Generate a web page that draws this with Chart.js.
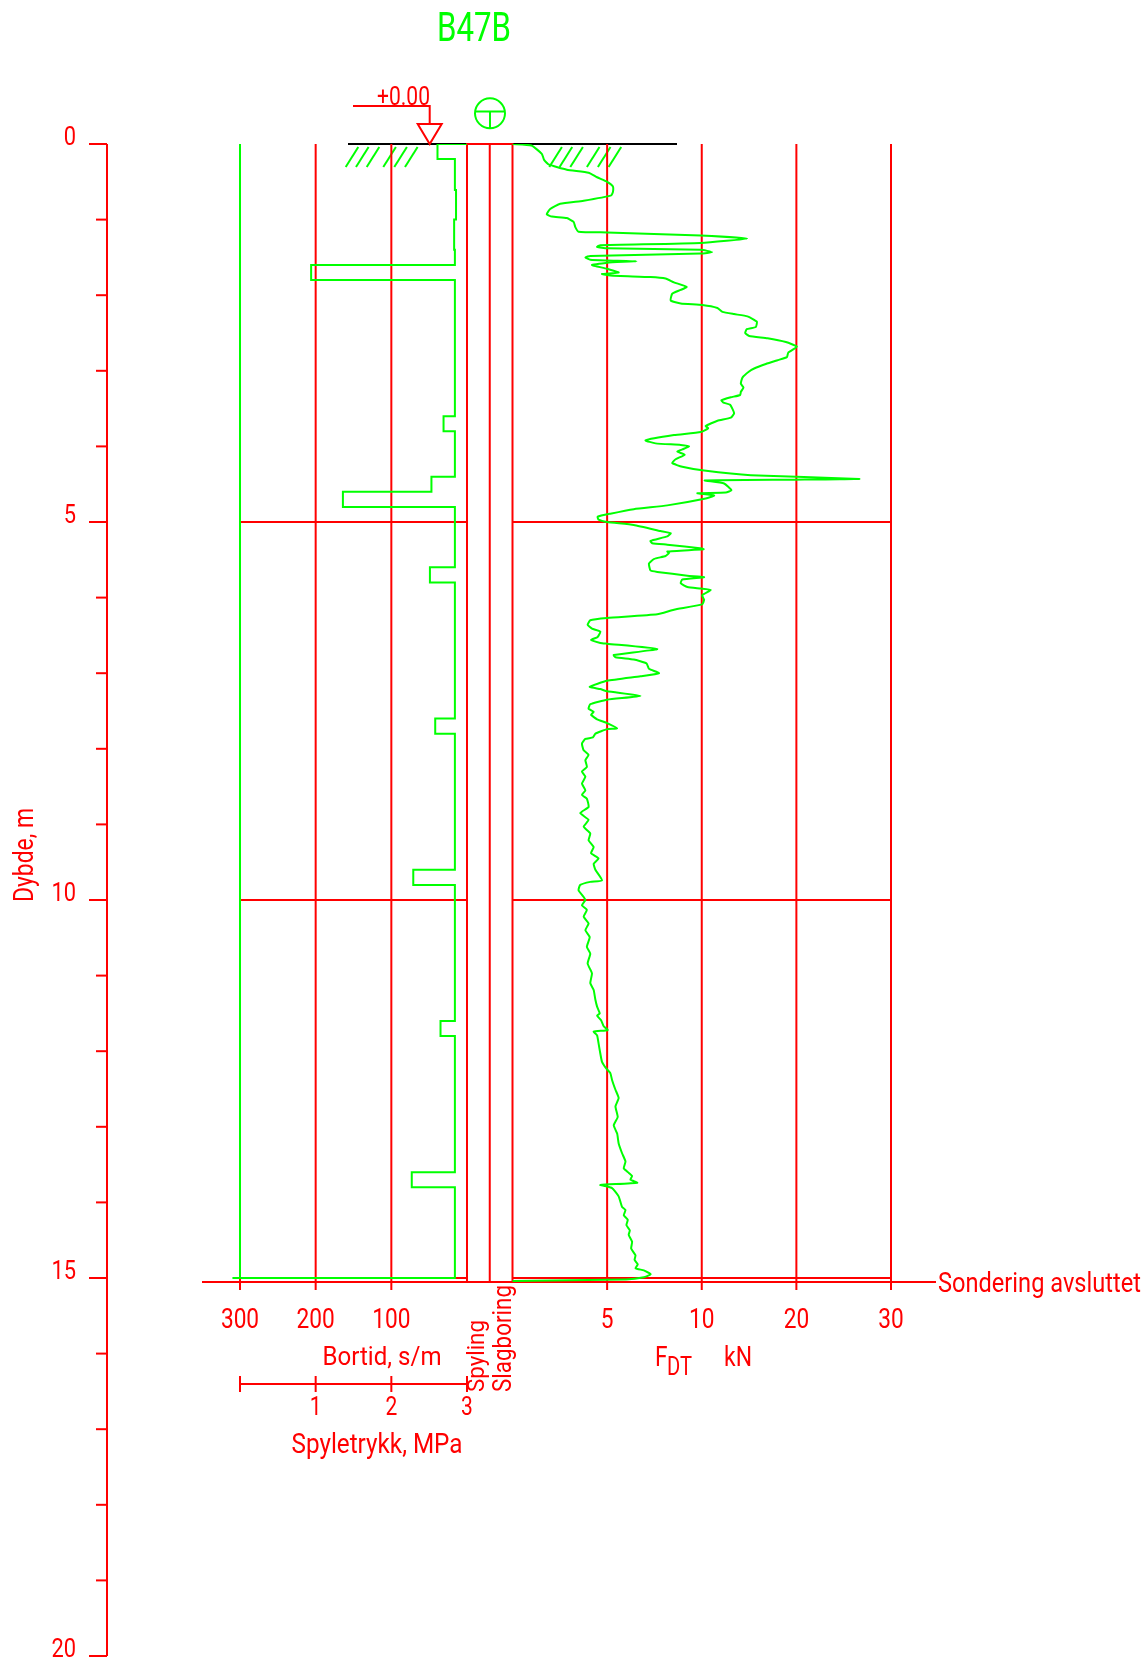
<!DOCTYPE html>
<html>
<head>
<meta charset="utf-8">
<title>B47B – totalsondering</title>
<script src="https://cdn.jsdelivr.net/npm/chart.js@4.4.1/dist/chart.umd.min.js"></script>
<style>
  html, body { margin: 0; padding: 0; background: #ffffff; }
  canvas { display: block; }
</style>
</head>
<body>
<canvas id="log" width="1148" height="1660" style="width:1148px;height:1660px"></canvas>
<script>
// ---------------------------------------------------------------------------
// Sounding data for borehole B47B
// ---------------------------------------------------------------------------
const boreholeName = 'B47B';
const endDepth = 15.0;            // m, "Sondering avsluttet"
const depthTicks = [0, 5, 10, 15, 20];

// Bortid (s/m): value holds from the listed depth down to the next one
const bortidDepth = [0, 0, 0.2, 0.61, 1.0, 1.4, 1.6, 1.8, 3.6, 3.8, 4.4, 4.6, 4.8, 5.6, 5.8, 7.6, 7.8, 9.6, 9.8, 11.6, 11.8, 13.6, 13.8, 15.0];
const bortidValue = [0, 39, 16, 14.5, 17, 16, 206, 16, 31, 16, 47, 164, 16, 49, 16, 42, 16, 71, 16, 35, 16, 73, 16, 310];
const bortidTicks = [300, 200, 100];

// Spyletrykk (MPa)
const pressureDepth = [0, 15.0];
const pressureValue = [0, 0];
const pressureTicks = [0, 1, 2, 3];

// Nedpressingskraft F_DT (kN)
const fdtDepth = [
  0.00, 0.02, 0.13, 0.21, 0.27, 0.34, 0.38, 0.44, 0.50, 0.56, 0.63, 0.68, 0.75, 0.79, 0.86, 0.93, 0.96, 0.98,
  1.03, 1.10, 1.16, 1.17, 1.21, 1.25, 1.31, 1.34, 1.36, 1.38, 1.40, 1.43, 1.45, 1.48, 1.50, 1.53, 1.54, 1.55,
  1.57, 1.60, 1.62, 1.65, 1.70, 1.72, 1.74, 1.76, 1.78, 1.83, 1.89, 1.93, 1.98, 2.07, 2.11, 2.13, 2.17, 2.22,
  2.25, 2.28, 2.35, 2.42, 2.45, 2.50, 2.54, 2.57, 2.62, 2.68, 2.76, 2.82, 2.86, 2.91, 2.97, 3.01, 3.09, 3.17,
  3.22, 3.28, 3.32, 3.35, 3.39, 3.42, 3.45, 3.56, 3.62, 3.66, 3.73, 3.76, 3.81, 3.85, 3.92, 3.96, 3.98, 4.00,
  4.04, 4.07, 4.11, 4.17, 4.22, 4.27, 4.32, 4.38, 4.43, 4.44, 4.45, 4.49, 4.58, 4.61, 4.62, 4.65, 4.69, 4.78,
  4.83, 4.89, 4.93, 4.97, 5.00, 5.04, 5.12, 5.15, 5.19, 5.25, 5.28, 5.30, 5.35, 5.36, 5.39, 5.41, 5.45, 5.49,
  5.55, 5.64, 5.66, 5.71, 5.73, 5.76, 5.81, 5.86, 5.88, 5.90, 5.97, 6.03, 6.09, 6.16, 6.22, 6.27, 6.30, 6.36,
  6.41, 6.45, 6.52, 6.56, 6.60, 6.61, 6.68, 6.76, 6.79, 6.82, 6.87, 6.94, 7.00, 7.04, 7.10, 7.18, 7.21, 7.24,
  7.30, 7.35, 7.41, 7.47, 7.51, 7.55, 7.61, 7.66, 7.73, 7.74, 7.80, 7.85, 7.87, 7.93, 8.02, 8.08, 8.15, 8.24,
  8.30, 8.37, 8.46, 8.55, 8.61, 8.66, 8.77, 8.85, 8.94, 9.03, 9.12, 9.21, 9.30, 9.38, 9.45, 9.52, 9.60, 9.74,
  9.76, 9.80, 9.87, 9.96, 10.00, 10.07, 10.13, 10.22, 10.31, 10.40, 10.49, 10.62, 10.71, 10.84, 10.97, 11.10,
  11.19, 11.32, 11.41, 11.50, 11.53, 11.59, 11.67, 11.72, 11.74, 11.79, 11.90, 12.03, 12.14, 12.23, 12.29, 12.38,
  12.51, 12.62, 12.73, 12.87, 12.98, 13.09, 13.22, 13.35, 13.46, 13.55, 13.61, 13.65, 13.70, 13.74, 13.77, 13.79,
  13.81, 13.86, 13.92, 13.99, 14.06, 14.10, 14.17, 14.23, 14.30, 14.37, 14.43, 14.52, 14.61, 14.70, 14.76, 14.82,
  14.87, 14.90, 14.95, 14.99, 15.02, 15.04
];
const fdtForce = [
  0.0, 1.0, 1.55, 1.67, 1.9, 2.87, 4.02, 4.47, 5.0, 5.3, 5.31, 5.22, 3.76, 2.52, 1.99, 1.81, 2.08, 2.87,
  3.23, 3.32, 3.49, 5.0, 9.95, 14.8, 9.95, 4.64, 4.47, 5.0, 9.95, 11.1, 9.95, 4.11, 3.85, 4.11, 5.0, 6.55,
  5.0, 4.2, 4.47, 5.0, 5.61, 4.73, 5.17, 7.29, 8.09, 8.53, 9.2, 8.89, 8.44, 8.36, 8.89, 10.07, 11.66, 12.19,
  13.42, 14.83, 15.82, 15.71, 14.76, 14.59, 15.01, 16.95, 18.89, 20.05, 19.14, 19.0, 18.0, 16.77, 15.54, 15.0, 14.3, 14.13,
  14.41, 14.13, 14.06, 13.07, 12.08, 12.29, 13.0, 13.42, 13.07, 11.66, 10.42, 10.67, 9.95, 8.53, 7.03, 7.56, 8.89, 9.33,
  8.97, 8.71, 9.1, 8.62, 8.44, 8.97, 10.25, 15.19, 26.65, 19.77, 10.32, 12.36, 13.14, 12.54, 9.77, 11.31, 10.42, 8.18,
  6.41, 5.17, 4.5, 4.55, 5.0, 6.41, 7.82, 8.36, 8.18, 7.29, 7.38, 8.18, 10.04, 10.2, 8.18, 8.27, 8.09, 7.47,
  7.21, 7.29, 7.65, 9.24, 10.25, 8.97, 8.89, 9.24, 9.95, 10.95, 10.04, 10.25, 10.04, 8.53, 7.65, 5.0, 4.11, 3.97,
  4.2, 4.64, 4.5, 4.15, 4.64, 5.0, 7.65, 5.35, 5.44, 6.41, 7.08, 7.21, 7.74, 6.76, 5.0, 4.08, 4.64, 5.0,
  6.76, 5.0, 4.11, 4.02, 4.29, 4.15, 4.47, 5.0, 5.53, 5.0, 4.38, 4.25, 3.85, 3.67, 3.76, 4.02, 3.85, 3.93,
  3.67, 3.85, 3.67, 3.85, 3.67, 3.93, 4.02, 3.58, 4.02, 3.76, 4.11, 4.02, 4.29, 4.15, 4.55, 4.29, 4.38, 4.73,
  4.11, 3.58, 3.49, 3.76, 3.85, 3.67, 3.93, 3.76, 4.02, 3.85, 4.08, 3.93, 4.11, 3.97, 4.2, 4.11,
  4.29, 4.38, 4.47, 4.61, 4.47, 4.68, 4.82, 5.03, 4.29, 4.47, 4.55, 4.64, 4.73, 4.96, 5.17, 5.26,
  5.44, 5.61, 5.44, 5.56, 5.35, 5.53, 5.61, 5.79, 5.97, 5.88, 6.15, 6.32, 6.23, 6.59, 4.64, 5.0,
  5.26, 5.44, 5.61, 5.70, 5.79, 5.97, 5.88, 6.09, 6.02, 6.2, 6.14, 6.32, 6.27, 6.5, 6.45, 6.62,
  6.5, 6.94, 7.3, 6.94, 6.0, 0.0
];
const fdtTicks = [5, 10, 20, 30];

// ---------------------------------------------------------------------------
// Sheet layout (pixels)
// ---------------------------------------------------------------------------
const PLOT = { left: 107, right: 891, top: 144, bottom: 1656 };
const RED = '#ff0000', GREEN = '#00ff00', BLACK = '#000000';
const FONT = 'Roboto, "DejaVu Sans", sans-serif';

// F_DT axis: linear up to 10 kN, half scale above
const SCALE_BREAK = 10, UPPER_FACTOR = 0.5;
const toU = v => (v <= SCALE_BREAK ? v : SCALE_BREAK + (v - SCALE_BREAK) * UPPER_FACTOR);
const fromU = u => (u <= SCALE_BREAK ? u : SCALE_BREAK + (u - SCALE_BREAK) / UPPER_FACTOR);

class SplitLinearScale extends Chart.LinearScale {
  getPixelForValue(value) {
    if (value === null || value === undefined) return NaN;
    const u0 = toU(this.min), u1 = toU(this.max);
    return this.getPixelForDecimal((toU(value) - u0) / (u1 - u0));
  }
  getValueForPixel(pixel) {
    const u0 = toU(this.min), u1 = toU(this.max);
    return fromU(u0 + this.getDecimalForPixel(pixel) * (u1 - u0));
  }
}
SplitLinearScale.id = 'splitLinear';
SplitLinearScale.defaults = Chart.LinearScale.defaults;
Chart.register(SplitLinearScale);

// min/max for an x scale so that two values land on two given pixel columns
function axisRange(vA, pA, vB, pB, t = v => v, inv = v => v) {
  const width = PLOT.right - PLOT.left;
  const uA = t(vA), uB = t(vB);
  const s = (pB - pA) / (uB - uA);
  if (s > 0) {
    const umin = uA - (pA - PLOT.left) / s;
    return { min: inv(umin), max: inv(umin + width / s), reverse: false };
  }
  const a = -s;
  const umax = uA + (pA - PLOT.left) / a;
  return { min: inv(umax - width / a), max: inv(umax), reverse: true };
}

const bortidRange = axisRange(0, 467, 300, 240);
const fdtRange = axisRange(0, 512.5, 30, 891, toU, fromU);
const pressureRange = axisRange(0, 240, 3, 467);

const toPoints = (xs, ys) => xs.map((x, i) => ({ x, y: ys[i] }));

// ---------------------------------------------------------------------------
// Text helper: condensed drawing-office lettering
// ---------------------------------------------------------------------------
function label(ctx, text, x, y, o) {
  ctx.save();
  ctx.font = `400 ${o.size}px ${FONT}`;
  const w = ctx.measureText(text).width;
  const sx = o.width ? o.width / w : (o.sx || 0.84);
  ctx.translate(x, y);
  if (o.rot) ctx.rotate(o.rot);
  ctx.scale(sx, 1);
  ctx.textAlign = o.align || 'left';
  ctx.textBaseline = 'alphabetic';
  ctx.fillStyle = o.color || RED;
  ctx.fillText(text, 0, 0);
  ctx.restore();
}

function seg(ctx, x1, y1, x2, y2, color, w = 2) {
  ctx.beginPath();
  ctx.strokeStyle = color;
  ctx.lineWidth = w;
  ctx.moveTo(x1, y1);
  ctx.lineTo(x2, y2);
  ctx.stroke();
}

// ---------------------------------------------------------------------------
// Frame, grid and annotations of the sounding log
// ---------------------------------------------------------------------------
const logFrame = {
  id: 'logFrame',
  beforeDatasetsDraw(chart) {
    const { ctx, chartArea } = chart;
    const { y, xb, xf, xp } = chart.scales;
    const y0 = y.getPixelForValue(0);
    const yEnd = y.getPixelForValue(endDepth);
    const tickEnd = yEnd + 12;
    ctx.save();
    ctx.lineCap = 'butt';

    // terrain surface and hatching
    seg(ctx, 348, y0, 677, y0, BLACK, 2);
    const hatchFeet = [345.7, 356, 366.7, 383.3, 394.3, 405];
    [0, 203.6].forEach(dx => hatchFeet.forEach(b => seg(ctx, b + dx, y0 + 23, b + dx + 12.6, y0 + 3, GREEN, 2)));

    // depth axis
    const ax = chartArea.left;
    seg(ctx, ax, y0, ax, y.getPixelForValue(20), RED, 2);
    for (let d = 0; d <= 20; d++) {
      const py = y.getPixelForValue(d);
      const major = depthTicks.includes(d);
      seg(ctx, major ? ax - 18 : ax - 11, py, ax, py, RED, 2);
    }

    // Bortid grid
    bortidTicks.forEach(v => {
      const px = xb.getPixelForValue(v);
      seg(ctx, px, v === 300 ? yEnd : y0, px, tickEnd, RED, 2);
    });
    // F_DT grid
    fdtTicks.forEach(v => {
      const px = xf.getPixelForValue(v);
      seg(ctx, px, y0, px, tickEnd, RED, 2);
    });
    // depth lines every 5 m inside both panels
    [5, 10, endDepth].forEach(d => {
      const py = y.getPixelForValue(d);
      seg(ctx, xb.getPixelForValue(300), py, xb.getPixelForValue(0), py, RED, 2);
      seg(ctx, xf.getPixelForValue(0), py, xf.getPixelForValue(30), py, RED, 2);
    });

    // Spyling / Slagboring column
    const cL = xb.getPixelForValue(0), cR = xf.getPixelForValue(0);
    const cB = yEnd + 4;
    ctx.beginPath();
    ctx.strokeStyle = RED;
    ctx.lineWidth = 2;
    ctx.rect(cL, y0, cR - cL, cB - y0);
    ctx.stroke();
    seg(ctx, (cL + cR) / 2, y0, (cL + cR) / 2, cB, RED, 2);

    // end of sounding
    seg(ctx, 202, yEnd + 4, 936, yEnd + 4, RED, 2);

    // Spyletrykk scale bar
    const barY = 1384;
    seg(ctx, xp.getPixelForValue(0), barY, xp.getPixelForValue(3), barY, RED, 2);
    pressureTicks.forEach(v => {
      const px = xp.getPixelForValue(v);
      seg(ctx, px, barY - 8, px, barY + 8, RED, 2);
    });
    ctx.restore();
  },

  afterDatasetsDraw(chart) {
    const { ctx } = chart;
    const { y, xb, xf, xp } = chart.scales;
    const y0 = y.getPixelForValue(0);
    const yEnd = y.getPixelForValue(endDepth);
    ctx.save();

    // level mark +0.00
    ctx.beginPath();
    ctx.strokeStyle = RED;
    ctx.lineWidth = 2;
    ctx.moveTo(353, 106); ctx.lineTo(429.7, 106); ctx.lineTo(429.7, 124);
    ctx.moveTo(417.7, 124); ctx.lineTo(441.7, 124); ctx.lineTo(429.7, y0); ctx.closePath();
    ctx.stroke();
    label(ctx, '+0.00', 377, 105, { size: 26, width: 53 });

    // total sounding symbol
    ctx.beginPath();
    ctx.strokeStyle = GREEN;
    ctx.lineWidth = 2;
    ctx.arc(490, 113.3, 15, 0, Math.PI * 2);
    ctx.moveTo(475, 111.5); ctx.lineTo(505, 111.5);
    ctx.moveTo(490, 111.5); ctx.lineTo(490, 128.3);
    ctx.stroke();

    // borehole name
    label(ctx, boreholeName, 474, 41, { size: 40, width: 74, align: 'center', color: GREEN });

    // depth labels
    depthTicks.forEach(d => label(ctx, String(d), 76, y.getPixelForValue(d) + 1, { size: 26, align: 'right' }));
    label(ctx, 'Dybde, m', 33, 855, { size: 27, width: 94, align: 'center', rot: -Math.PI / 2 });

    // bottom tick labels
    const tickY = 1328;
    bortidTicks.forEach(v => label(ctx, String(v), xb.getPixelForValue(v), tickY, { size: 27, align: 'center' }));
    fdtTicks.forEach(v => label(ctx, String(v), xf.getPixelForValue(v), tickY, { size: 27, align: 'center' }));
    label(ctx, 'Bortid, s/m', 382, 1365, { size: 26, width: 119, align: 'center' });

    pressureTicks.filter(v => v > 0).forEach(v => label(ctx, String(v), xp.getPixelForValue(v), 1415, { size: 25, align: 'center' }));
    label(ctx, 'Spyletrykk, MPa', 377, 1453, { size: 27, width: 171, align: 'center' });

    label(ctx, 'Spyling', 484, 1392, { size: 24, width: 72, rot: -Math.PI / 2 });
    label(ctx, 'Slagboring', 511, 1392, { size: 25, width: 107, rot: -Math.PI / 2 });

    label(ctx, 'F', 655, 1366, { size: 27 });
    label(ctx, 'DT', 667, 1375, { size: 26, width: 25 });
    label(ctx, 'kN', 724, 1366, { size: 27, width: 28 });

    label(ctx, 'Sondering avsluttet', 938, yEnd + 14, { size: 27, width: 203 });
    ctx.restore();
  }
};

// ---------------------------------------------------------------------------
// Chart
// ---------------------------------------------------------------------------
const lineStyle = { borderColor: GREEN, borderWidth: 2, pointRadius: 0, fill: false, yAxisID: 'y' };

new Chart(document.getElementById('log'), {
  type: 'line',
  data: {
    datasets: [
      { ...lineStyle, label: 'Bortid', xAxisID: 'xb', stepped: 'after', data: toPoints(bortidValue, bortidDepth) },
      { ...lineStyle, label: 'Spyletrykk', xAxisID: 'xp', data: toPoints(pressureValue, pressureDepth) },
      { ...lineStyle, label: 'FDT', xAxisID: 'xf', tension: 0.15, data: toPoints(fdtForce, fdtDepth) }
    ]
  },
  options: {
    responsive: false,
    devicePixelRatio: 1,
    animation: false,
    events: [],
    layout: { padding: { left: PLOT.left, right: 1148 - PLOT.right, top: PLOT.top, bottom: 1660 - PLOT.bottom } },
    plugins: { legend: { display: false }, tooltip: { enabled: false }, title: { display: false } },
    scales: {
      y: { type: 'linear', axis: 'y', reverse: true, min: 0, max: 20, bounds: 'data', display: false },
      xb: { type: 'linear', axis: 'x', position: 'bottom', bounds: 'data', display: false, ...bortidRange },
      xp: { type: 'linear', axis: 'x', position: 'bottom', bounds: 'data', display: false, ...pressureRange },
      xf: { type: 'splitLinear', axis: 'x', position: 'bottom', bounds: 'data', display: false, ...fdtRange }
    }
  },
  plugins: [logFrame]
});
</script>
</body>
</html>
